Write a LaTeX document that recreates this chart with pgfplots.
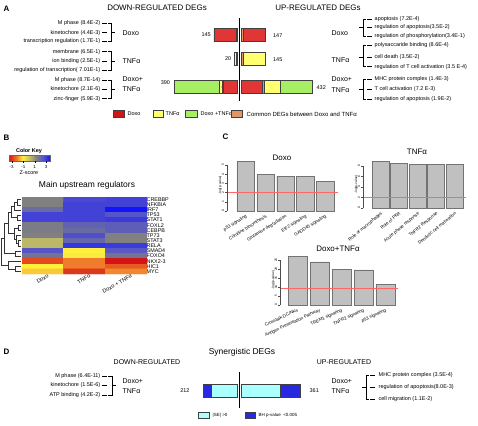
\documentclass[border=0pt]{standalone}
\usepackage{fontspec}
\setmainfont{Liberation Sans}
\usepackage{pgfplots}
\pgfplotsset{compat=1.18}
\newcommand{\fs}[1]{\fontsize{#1}{#1}\selectfont}
\definecolor{aRed}{RGB}{224,54,54}
\definecolor{aYellow}{RGB}{255,255,112}
\definecolor{aGreen}{RGB}{168,238,100}
\definecolor{aOrange}{RGB}{226,150,100}
\definecolor{dBlue}{RGB}{40,40,225}
\definecolor{dCyan}{RGB}{170,255,255}
\definecolor{barGrey}{RGB}{192,192,192}
\definecolor{zc0}{RGB}{210,20,20}
\definecolor{zc1}{RGB}{238,110,40}
\definecolor{zc2}{RGB}{255,240,60}
\definecolor{zc3}{RGB}{195,190,100}
\definecolor{zc4}{RGB}{128,128,128}
\definecolor{zc5}{RGB}{85,85,200}
\definecolor{zc6}{RGB}{20,20,250}
\pgfdeclarehorizontalshading{zkey}{50bp}{color(0bp)=(zc0); color(25bp)=(zc0); color(33.33bp)=(zc1); color(41.67bp)=(zc2); color(50bp)=(zc3); color(58.33bp)=(zc4); color(66.67bp)=(zc5); color(75bp)=(zc6); color(100bp)=(zc6)}
\pgfplotsset{every axis/.append style={/pgf/number format/assume math mode=true}}
\tikzset{segA/.style={draw=black!75, line width=0.3pt}}
\pgfplotsset{
 hbar/.style={scale only axis, xbar stacked, hide axis, clip=false, bar width=13bp,
   xmin=0, xmax=450, y dir=reverse, width=73.35bp},
 cbar/.style={scale only axis, clip=false, ymin=0, ytick pos=left,
   axis line style={draw=none}, xtick style={draw=none},
   ytick style={draw=black!70, line width=0.3pt}, tick align=outside, major tick length=1.8bp,
   yticklabel style={rotate=90, font=\fs{3.3}, inner sep=0.8pt},
   ylabel={-log(p-value)}, ylabel style={font=\fs{3.3}, inner sep=0pt, yshift=-1bp},
   xtick={0,1,2,3,4}, xticklabel style={anchor=north east, font=\fs{4.5}, inner sep=1pt}},
}
\newcommand{\lbr}[4]{%
 \draw[line width=0.5pt] (102,#1)--(107,#1) (102,#2)--(107,#2) (102,#3)--(107,#3);
 \draw[line width=0.5pt] (108,#1)--(#4,#1)--(#4,#3)--(108,#3);
 \draw[line width=0.5pt] (#4,#2)--(#4+4,#2);}
\newcommand{\rbr}[4]{%
 \draw[line width=0.5pt] (#4+3,#1)--(#4,#1)--(#4,#3)--(#4+3,#3);
 \draw[line width=0.5pt] (#4-4,#2)--(#4,#2);
 \draw[line width=0.5pt] (#4+4,#1)--(#4+9,#1) (#4+4,#2)--(#4+9,#2) (#4+4,#3)--(#4+9,#3);}
\begin{document}
\begin{tikzpicture}[x=1bp,y=-1bp,font=\fs{5.5}]
\useasboundingbox (0,0) rectangle (478,425);
\coordinate (pAL) at (237.5,18);
\coordinate (pAR) at (241.5,18);
\coordinate (pB) at (22,197);
\coordinate (pC1) at (227,211);
\coordinate (pC2) at (363,208);
\coordinate (pC3) at (280,305);
\coordinate (pDL) at (237.5,372);
\coordinate (pDR) at (241.5,372);
% ================= Panel A =================
\node[font=\bfseries\fs{8}, anchor=west] at (0,9) {A};
\node[font=\fs{8}] at (157,8) {DOWN-REGULATED DEGs};
\node[font=\fs{8}] at (318,8) {UP-REGULATED DEGs};
% left lists
\begin{scope}[every node/.style={anchor=east, inner sep=0.5pt}]
\node at (101,23.3) {M phase (8.4E-2)};
\node at (101,32.7) {kinetochore (4.4E-3)};
\node at (101,41.3) {transcription regulation (1.7E-1)};
\node at (101,51.7) {membrane (6.5E-1)};
\node at (101,61) {ion binding (2.5E-1)};
\node at (101,70) {regulation of transcription( 7.01E-1)};
\node at (101,80) {M phase (8.7E-14)};
\node at (101,89.3) {kinetochore (2.1E-6)};
\node at (101,98.7) {zinc-finger (5.9E-3)};
\end{scope}
\lbr{23.3}{32.7}{41.3}{111}
\lbr{51.7}{61}{70}{111}
\lbr{80}{89.3}{98.7}{111}
\begin{scope}[every node/.style={anchor=west, inner sep=0.5pt, font=\fs{7}}]
\node at (122,33) {Doxo};
\node at (122,61) {TNFα};
\node at (122,79.5) {Doxo+};
\node at (122,89.5) {TNFα};
\node at (331,33) {Doxo};
\node at (331,60) {TNFα};
\node at (331,79.5) {Doxo+};
\node at (331,90.5) {TNFα};
\end{scope}
% right lists
\rbr{19}{27.3}{36}{363}
\rbr{45.3}{57.3}{66.7}{363}
\rbr{79}{89}{99.3}{363}
\begin{scope}[every node/.style={anchor=west, inner sep=0.5pt}]
\node at (374,19) {apoptosis (7.2E-4)};
\node at (374,27.3) {regulation of apoptosis(3.5E-2)};
\node at (374,36) {regulation of phosphorylation(3.4E-1)};
\node at (374,45.3) {polysaccaride binding (8.6E-4)};
\node at (374,57.3) {cell death (3.5E-2)};
\node at (374,66.7) {regulation of T cell activation (3.5 E-4)};
\node at (374,79) {MHC protein complex (1.4E-3)};
\node at (374,89) {T cell activation (7.2 E-3)};
\node at (374,99.3) {regulation of apoptosis (1.9E-2)};
\end{scope}
% left (down) bars
\begin{axis}[hbar, at={(pAL)}, anchor=north east, height=83bp, ymin=18, ymax=101, x dir=reverse]
\addplot[segA, fill=aOrange] coordinates {(7,35) (7,59) (0,87)};
\addplot[segA, fill=aRed] coordinates {(138,35) (0,59) (90,87)};
\addplot[segA, fill=aOrange] coordinates {(0,35) (0,59) (7,87)};
\addplot[segA, fill=aYellow] coordinates {(0,35) (13,59) (14,87)};
\addplot[segA, fill=aGreen] coordinates {(0,35) (0,59) (279,87)};
\node[anchor=east, inner sep=0.5pt] at (axis cs:160,35) {145};
\node[anchor=east, inner sep=0.5pt] at (axis cs:34,58.5) {20};
\node[anchor=east, inner sep=0.5pt] at (axis cs:410,82.5) {390};
\node[font=\fs{5}] at (axis cs:45,87) {90};
\node[font=\fs{3.5}] at (axis cs:104,87) {14};
\end{axis}
% right (up) bars
\begin{axis}[hbar, at={(pAR)}, anchor=north west, height=83bp, ymin=18, ymax=101]
\addplot[segA, fill=aOrange] coordinates {(12,35) (12,59) (0,87)};
\addplot[segA, fill=aRed] coordinates {(135,35) (0,59) (125,87)};
\addplot[segA, fill=aOrange] coordinates {(0,35) (0,59) (12,87)};
\addplot[segA, fill=aYellow] coordinates {(0,35) (133,59) (100,87)};
\addplot[segA, fill=aGreen] coordinates {(0,35) (0,59) (195,87)};
\node[font=\fs{3.5}] at (axis cs:6,35) {12};
\node[font=\fs{3.5}] at (axis cs:6,59) {12};
\node[font=\fs{3.5}] at (axis cs:131,87) {12};
\node[font=\fs{5}] at (axis cs:62.5,87) {125};
\node[font=\fs{5}] at (axis cs:187,87) {100};
\node[anchor=west, inner sep=0.5pt] at (axis cs:190,36) {147};
\node[anchor=west, inner sep=0.5pt] at (axis cs:190,60) {145};
\node[anchor=west, inner sep=0.5pt] at (axis cs:457,88) {432};
\end{axis}
\draw[line width=1.3pt] (239.5,18) -- (239.5,101);
% legend A
\begin{scope}[every node/.style={anchor=west, inner sep=0.5pt, font=\fs{5.5}}]
\draw[segA, fill=zc0] (113,110) rectangle (124,117); \node at (127,114) {Doxo};
\draw[segA, fill=aYellow] (153,110) rectangle (163,117); \node at (165,114) {TNFα};
\draw[segA, fill=aGreen] (185,110) rectangle (197,117); \node at (200,114) {Doxo +TNFα};
\draw[segA, fill=aOrange] (231,110) rectangle (242,117); \node[font=\fs{6}] at (246,114) {Common DEGs between Doxo and TNFα};
\end{scope}
% ================= Panel B =================
\node[font=\bfseries\fs{8}, anchor=west] at (0,138) {B};
\node[font=\bfseries\fs{5.5}] at (29,151) {Color Key};
\shade[shading=zkey] (9,155) rectangle (50,161);
\draw[line width=0.3pt, black!60] (9,155) rectangle (50,161);
\foreach \xx/\ll in {11.7/-3, 23.3/-1, 34.7/1, 46/3} {
  \draw[line width=0.3pt] (\xx,161) -- (\xx,162.5);
  \node[font=\fs{4.5}, inner sep=0pt] at (\xx,166.5) {\ll};
}
\node[font=\fs{5.5}] at (29,173) {Z-score};
\node[font=\fs{8.5}] at (87,185) {Main upstream regulators};
\begin{axis}[at={(pB)}, anchor=north west, scale only axis, width=125bp, height=77bp,
  xmin=0.5, xmax=3.5, ymin=0.5, ymax=15.5, y dir=reverse,
  axis line style={draw=none}, tick style={draw=none},
  colormap={zmap}{rgb255=(210,20,20) rgb255=(238,110,40) rgb255=(255,240,60) rgb255=(195,190,100) rgb255=(128,128,128) rgb255=(85,85,200) rgb255=(20,20,250)},
  point meta min=-3, point meta max=3,
  ytick={1,...,15}, yticklabel pos=right,
  yticklabels={CREBBP,NFKBIA,IRF7,TP53,STAT1,FOXL2,CEBPB,TP73,STAT3,RELA,SMAD4,FOXO4,NKX2-3,HIC1,MYC},
  yticklabel style={font=\fs{5.4}, inner sep=0.5pt, xshift=-1bp},
  xtick={1,2,3}, xticklabels={Doxo,TNFα,Doxo + TNFα},
  xticklabel style={font=\fs{5.5}, inner sep=1pt, rotate=30, anchor=north east, xshift=5bp, yshift=-1bp}]
\addplot[matrix plot*, mesh/cols=3, point meta=explicit] coordinates {
(1,1) [1.0] (2,1) [2.2] (3,1) [2.3]
(1,2) [1.0] (2,2) [2.3] (3,2) [2.3]
(1,3) [1.5] (2,3) [2.3] (3,3) [3.0]
(1,4) [2.3] (2,4) [2.3] (3,4) [2.0]
(1,5) [2.3] (2,5) [2.3] (3,5) [2.4]
(1,6) [1.1] (2,6) [1.7] (3,6) [1.8]
(1,7) [1.1] (2,7) [1.5] (3,7) [1.8]
(1,8) [1.0] (2,8) [2.1] (3,8) [1.0]
(1,9) [0.1] (2,9) [1.6] (3,9) [1.0]
(1,10) [0.1] (2,10) [2.5] (3,10) [2.4]
(1,11) [2.0] (2,11) [-1.0] (3,11) [1.9]
(1,12) [1.3] (2,12) [-0.9] (3,12) [1.3]
(1,13) [-2.4] (2,13) [-1.9] (3,13) [-3.0]
(1,14) [-1.0] (2,14) [-1.9] (3,14) [-2.2]
(1,15) [-1.3] (2,15) [-2.6] (3,15) [-1.8]
};
\end{axis}
% dendrogram
\begin{scope}[line width=0.35pt, black!80]
\draw (21,199.57)--(17,199.57)--(17,204.7)--(21,204.7);
\draw (17,202.1)--(14,202.1)--(14,209.83)--(21,209.83);
\draw (21,214.97)--(17,214.97)--(17,220.1)--(21,220.1);
\draw (14,206)--(11,206)--(11,217.5)--(17,217.5);
\draw (21,225.23)--(18,225.23)--(18,230.37)--(21,230.37);
\draw (21,240.63)--(18,240.63)--(18,245.77)--(21,245.77);
\draw (21,235.5)--(16,235.5)--(16,243.2)--(18,243.2);
\draw (18,227.8)--(14,227.8)--(14,239.35)--(16,239.35);
\draw (11,211.8)--(8,211.8)--(8,233.6)--(14,233.6);
\draw (21,250.9)--(15,250.9)--(15,256.03)--(21,256.03);
\draw (8,222.7)--(4,222.7)--(4,253.5)--(15,253.5);
\draw (21,266.3)--(15,266.3)--(15,271.43)--(21,271.43);
\draw (21,261.17)--(8,261.17)--(8,268.9)--(15,268.9);
\draw (4,238.1)--(1,238.1)--(1,265)--(8,265);
\end{scope}
% ================= Panel C =================
\node[font=\bfseries\fs{8}, anchor=west] at (219,137) {C};
\node[font=\fs{8}] at (282,157.5) {Doxo};
\node[font=\fs{8}] at (417,152) {TNFα};
\node[font=\fs{8}] at (338,249) {Doxo+TNFα};
\begin{axis}[cbar, at={(pC1)}, anchor=south west, width=111bp, height=51.5bp,
  xmin=-0.94, xmax=4.64, ymax=5.6, ytick={0,...,5},
  xticklabels={p53 signaling, Citrulline biosynthesis, Glutamine degradation, EIF2 signaling, GADD45 signaling},
  xticklabel style={rotate=32}]
\addplot[ybar, bar width=17.5bp, fill=barGrey, draw=black!55, line width=0.3pt] coordinates {(0,5.4) (1,4.0) (2,3.8) (3,3.75) (4,3.2)};
\addplot[red!60, line width=0.35pt] coordinates {(-0.94,2) (4.64,2)};
\draw[black!70, line width=0.3pt] (axis cs:-0.94,0) -- (axis cs:-0.94,5);
\end{axis}
\begin{axis}[cbar, at={(pC2)}, anchor=south west, width=103bp, height=47.25bp,
  xmin=-0.946, xmax=4.62, ymax=9, ytick={0,2,...,8},
  xticklabels={Role of macrophages, Role of PKR, Acute phase response, TNFR2 Response, Dendritic cell maturation},
  xticklabel style={rotate=40}]
\addplot[ybar, bar width=17bp, fill=barGrey, draw=black!55, line width=0.3pt] coordinates {(0,8.9) (1,8.55) (2,8.35) (3,8.35) (4,8.3)};
\addplot[red!60, line width=0.35pt] coordinates {(-0.946,2) (4.62,2)};
\draw[black!70, line width=0.3pt] (axis cs:-0.946,0) -- (axis cs:-0.946,8);
\end{axis}
\begin{axis}[cbar, at={(pC3)}, anchor=south west, width=118bp, height=50bp,
  xmin=-0.8, xmax=4.57, ymax=27.8, ytick={0,5,...,25},
  xticklabels={Crosstalk DC/NKs, Antigen Presentation Pathway, TREM1 signaling, TNFR2 signaling, p53 signaling},
  xticklabel style={rotate=25}]
\addplot[ybar, bar width=19bp, fill=barGrey, draw=black!55, line width=0.3pt] coordinates {(0,27.2) (1,24) (2,20) (3,19.6) (4,11.5)};
\addplot[red!60, line width=0.35pt] coordinates {(-0.8,9.6) (4.57,9.6)};
\draw[black!70, line width=0.3pt] (axis cs:-0.8,0) -- (axis cs:-0.8,25);
\end{axis}
% ================= Panel D =================
\node[font=\bfseries\fs{8}, anchor=west] at (0,352) {D};
\node[font=\fs{8.5}] at (242,352) {Synergistic DEGs};
\node[font=\fs{7}] at (147,362) {DOWN-REGULATED};
\node[font=\fs{7}] at (344,362) {UP-REGULATED};
\begin{scope}[every node/.style={anchor=east, inner sep=0.5pt}]
\node at (101,376) {M phase (6.4E-11)};
\node at (101,385.5) {kinetochore (1.5E-6)};
\node at (101,395) {ATP binding (4.2E-2)};
\end{scope}
\lbr{376}{385.5}{395}{112}
\begin{scope}[every node/.style={anchor=west, inner sep=0.5pt, font=\fs{7}}]
\node at (122,381) {Doxo+};
\node at (122,391) {TNFα};
\node at (331,381) {Doxo+};
\node at (331,391) {TNFα};
\end{scope}
\rbr{375}{387}{399}{366}
\begin{scope}[every node/.style={anchor=west, inner sep=0.5pt}]
\node at (378,375) {MHC protein complex (3.5E-4)};
\node at (378,387) {regulation of apoptosis(8.0E-3)};
\node at (378,399) {cell migration (1.1E-2)};
\end{scope}
\begin{axis}[hbar, at={(pDL)}, anchor=north east, height=36bp, ymin=372, ymax=408, x dir=reverse]
\addplot[segA, fill=dCyan] coordinates {(161,390.5)};
\addplot[segA, fill=dBlue] coordinates {(51,390.5)};
\node[font=\fs{5}] at (axis cs:80.5,390.5) {161};
\node[anchor=east, inner sep=0.5pt] at (axis cs:290,391) {212};
\end{axis}
\begin{axis}[hbar, at={(pDR)}, anchor=north west, height=36bp, ymin=372, ymax=408]
\addplot[segA, fill=dCyan] coordinates {(239,390.5)};
\addplot[segA, fill=dBlue] coordinates {(122,390.5)};
\node[font=\fs{5}] at (axis cs:119.5,390.5) {239};
\node[anchor=west, inner sep=0.5pt] at (axis cs:414,391) {361};
\end{axis}
\draw[line width=1.3pt] (239.5,372) -- (239.5,408);
\draw[segA, fill=dCyan] (198,412) rectangle (209,418);
\node[anchor=west, inner sep=0.5pt, font=\fs{4.5}] at (212,415) {|SE| >0};
\draw[segA, fill=dBlue] (245,412) rectangle (255,418);
\node[anchor=west, inner sep=0.5pt, font=\fs{4.5}] at (258,415) {BH p-value \ <0.005};
\end{tikzpicture}
\end{document}
